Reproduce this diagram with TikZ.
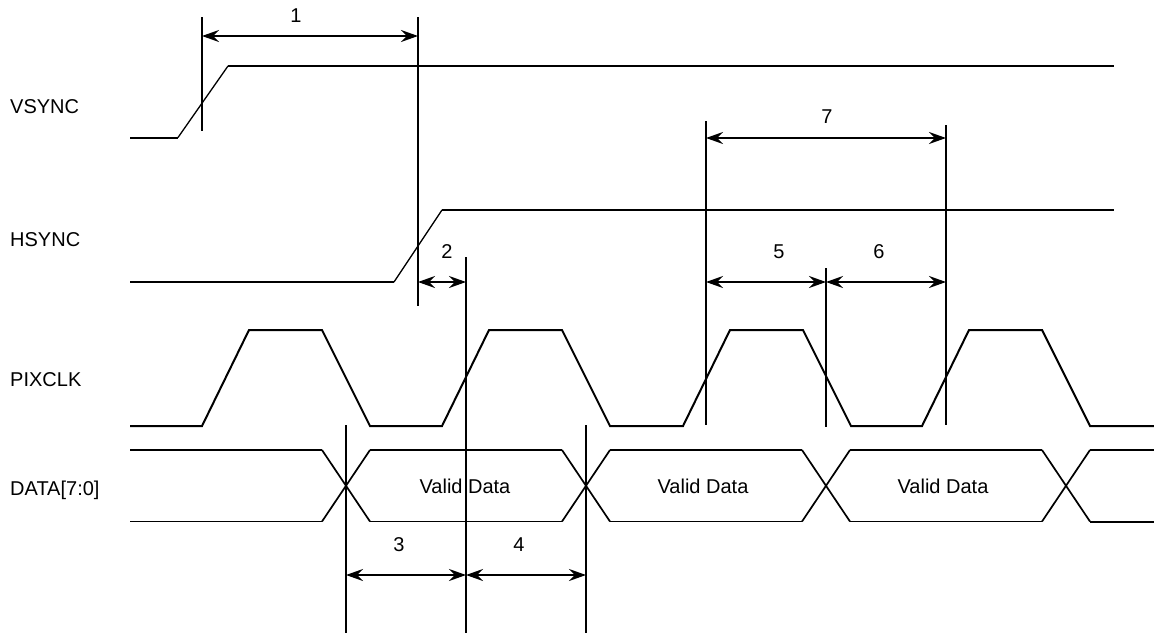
\documentclass[tikz,border=0pt]{standalone}
\usepackage{fontspec}
\setmainfont{Liberation Sans}
\usetikzlibrary{arrows.meta}

\tikzset{
  sig/.style={line width=2pt, line join=miter},
  ramp/.style={line width=1.3pt},
  bus/.style={line width=1.7pt},
  marker/.style={line width=2pt},
  dim/.style={line width=2pt, {Stealth[length=17pt,width=12pt,inset=6pt]}-{Stealth[length=17pt,width=12pt,inset=6pt]}},
  lbl/.style={font=\fontsize{20}{24}\selectfont, inner sep=0pt},
}

\begin{document}
\begin{tikzpicture}[x=1pt,y=-1pt]
		\useasboundingbox (0,0) rectangle (1154,635);
		
		%%%%% signal names %%%%%
		\node[lbl, anchor=west] (vsname) at (10,107) {VSYNC};
		\node[lbl, anchor=west] (hsname) at (10,240) {HSYNC};
		\node[lbl, anchor=west] (pcname) at (10,380) {PIXCLK};
		\node[lbl, anchor=west] (dtname) at (10,490) {DATA[7:0]};
		
		%%%%% VSYNC / HSYNC %%%%%
		\draw[sig] (130,137.5) -- (178,137.5);
		\draw[ramp] (178,137.5) -- (228,66);
		\draw[sig] (228,66) -- (1114,66);
		
		\draw[sig] (130,282) -- (394,282);
		\draw[ramp] (394,282) -- (442,210);
		\draw[sig] (442,210) -- (1114,210);
		
		%%%%% PIXCLK %%%%%
		\draw[sig] (130,426) \foreach \r in {202,442,683,922} { -- (\r,426) -- ++(47,-96) -- ++(73,0) -- ++(48,96) } -- (1154,426);
		
		%%%%% DATA %%%%%
		\foreach \c in {346,586,826,1066} {
			\draw[bus] (\c-24,450) -- (\c+24,521.5);
			\draw[bus] (\c-24,521.5) -- (\c+24,450);
		}
		\foreach \a/\b in {130/322,370/562,610/802,850/1042} {
			\draw[bus] (\a,450) -- (\b,450);
			\draw[bus] (\a,521.5) -- (\b,521.5);
		}
		\draw[sig] (1090,450) -- (1154,450);
		\draw[sig] (1090,521.5) -- (1154,521.5);
		\node[lbl] (vd1) at (465,486) {Valid Data};
		\node[lbl] (vd2) at (703,486) {Valid Data};
		\node[lbl] (vd3) at (943,486) {Valid Data};
		
		%%%%% markers %%%%%
		\coordinate (m1t) at (202,17);  \coordinate (m1b) at (202,131);
		\coordinate (m2t) at (418,17);  \coordinate (m2b) at (418,306);
		\coordinate (m3t) at (466,257); \coordinate (m3b) at (466,633);
		\coordinate (m4t) at (346,425); \coordinate (m4b) at (346,633);
		\coordinate (m5t) at (586,425); \coordinate (m5b) at (586,633);
		\coordinate (m6t) at (706,121); \coordinate (m6b) at (706,425);
		\coordinate (m7t) at (826,268); \coordinate (m7b) at (826,427);
		\coordinate (m8t) at (946,125); \coordinate (m8b) at (946,425);
		\foreach \m in {1,...,8} {
			\draw[marker] (m\m t) -- (m\m b);
		}
		
		%%%%% timing arrows %%%%%
		\draw[dim] (m1t |- 0,36) -- (m2t |- 0,36);
		\node[lbl] (t1) at (296,16) {1};
		
		\draw[dim] (m2t |- 0,282) -- (m3t |- 0,282);
		\node[lbl] (t2) at (447,252) {2};
		
		\draw[dim] (m4t |- 0,575) -- (m3t |- 0,575);
		\node[lbl] (t3) at (399,545) {3};
		
		\draw[dim] (m3t |- 0,575) -- (m5t |- 0,575);
		\node[lbl] (t4) at (519,545) {4};
		
		\draw[dim] (m6t |- 0,282) -- (m7t |- 0,282);
		\node[lbl] (t5) at (779,252) {5};
		
		\draw[dim] (m7t |- 0,282) -- (m8t |- 0,282);
		\node[lbl] (t6) at (879,252) {6};
		
		\draw[dim] (m6t |- 0,138) -- (m8t |- 0,138);
		\node[lbl] (t7) at (827,117) {7};
		
	\end{tikzpicture}
\end{document}
